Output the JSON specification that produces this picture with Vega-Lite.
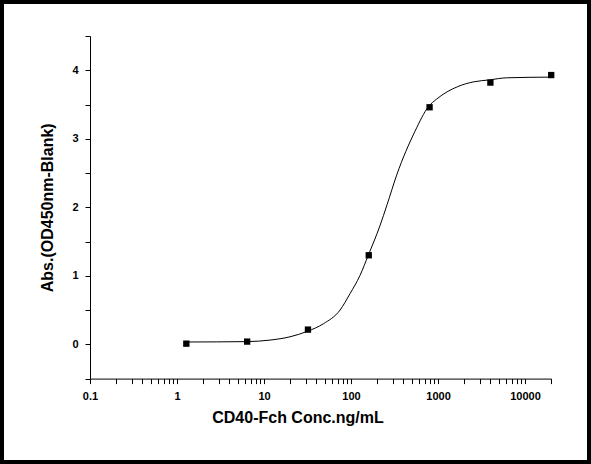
{
  "$schema": "https://vega.github.io/schema/vega-lite/v6.json",
  "autosize": "none",
  "width": 587,
  "height": 460,
  "padding": {"left": 2, "top": 2, "right": 2, "bottom": 2},
  "background": "white",
  "config": {
    "font": "Liberation Sans",
    "view": {"stroke": "black", "strokeWidth": 4},
    "axis": {
      "grid": false,
      "domainColor": "black",
      "tickColor": "black",
      "labelColor": "black",
      "titleColor": "black",
      "tickSize": 5,
      "labelFont": "Liberation Sans",
      "labelFontWeight": "bold",
      "labelFontSize": 11,
      "titleFont": "Liberation Sans",
      "titleFontWeight": "bold",
      "titleFontSize": 16
    }
  },
  "datasets": {
    "points": [
      {"conc": 1.28, "abs": 0.01},
      {"conc": 6.4, "abs": 0.04},
      {"conc": 32, "abs": 0.215},
      {"conc": 160, "abs": 1.3},
      {"conc": 800, "abs": 3.46},
      {"conc": 4000, "abs": 3.82},
      {"conc": 20000, "abs": 3.93}
    ],
    "curve": [
      {"conc": 1.28, "abs": 0.034},
      {"conc": 6.4, "abs": 0.04},
      {"conc": 11.7, "abs": 0.062},
      {"conc": 19.9, "abs": 0.11},
      {"conc": 31.5, "abs": 0.19},
      {"conc": 48.1, "abs": 0.3},
      {"conc": 74.8, "abs": 0.5},
      {"conc": 97.5, "abs": 0.74},
      {"conc": 127, "abs": 1.007},
      {"conc": 158, "abs": 1.3},
      {"conc": 215, "abs": 1.73},
      {"conc": 260, "abs": 2.04},
      {"conc": 335, "abs": 2.47},
      {"conc": 544, "abs": 3.11},
      {"conc": 778, "abs": 3.47},
      {"conc": 966, "abs": 3.58},
      {"conc": 1675, "abs": 3.76},
      {"conc": 2546, "abs": 3.83},
      {"conc": 3930, "abs": 3.86},
      {"conc": 6160, "abs": 3.89},
      {"conc": 20000, "abs": 3.9}
    ]
  },
  "encoding": {
    "x": {
      "field": "conc",
      "type": "quantitative",
      "scale": {"type": "log", "domain": [0.1, 20000], "range": [88, 549.2], "nice": false},
      "axis": {
        "orient": "bottom",
        "offset": -83.4,
        "title": "CD40-Fch Conc.ng/mL",
        "titleX": 295.5,
        "titleY": 44,
        "titleAnchor": "start",
        "titleAlign": "center",
        "titleBaseline": "alphabetic",
        "labelPadding": 7,
        "labelFlush": false,
        "labelOverlap": false,
        "values": [0.1, 0.2, 0.3, 0.4, 0.5, 0.6, 0.7, 0.8, 0.9, 1, 2, 3, 4, 5, 6, 7, 8, 9, 10, 20, 30, 40, 50, 60, 70, 80, 90, 100, 200, 300, 400, 500, 600, 700, 800, 900, 1000, 2000, 3000, 4000, 5000, 6000, 7000, 8000, 9000, 10000, 20000],
        "labelExpr": "abs(log(datum.value)/LN10 - round(log(datum.value)/LN10)) < 0.000001 ? (datum.value < 1 ? '0.1' : format(datum.value, 'd')) : ''"
      }
    },
    "y": {
      "field": "abs",
      "type": "quantitative",
      "scale": {"domain": [-0.5, 4.5], "range": [376.6, 34], "nice": false, "zero": false},
      "axis": {
        "orient": "left",
        "offset": -88,
        "title": "Abs.(OD450nm-Blank)",
        "titleX": -42.5,
        "titleBaseline": "middle",
        "labelPadding": 7,
        "labelOverlap": false,
        "labelFlush": false,
        "values": [-0.5, 0, 0.5, 1, 1.5, 2, 2.5, 3, 3.5, 4, 4.5],
        "labelExpr": "datum.value % 1 === 0 ? format(datum.value, 'd') : ''"
      }
    }
  },
  "layer": [
    {
      "data": {"name": "curve"},
      "mark": {"type": "line", "color": "black", "strokeWidth": 1, "interpolate": "monotone", "clip": false}
    },
    {
      "data": {"name": "points"},
      "mark": {"type": "square", "color": "black", "filled": true, "opacity": 1, "size": 40, "clip": false}
    }
  ]
}
